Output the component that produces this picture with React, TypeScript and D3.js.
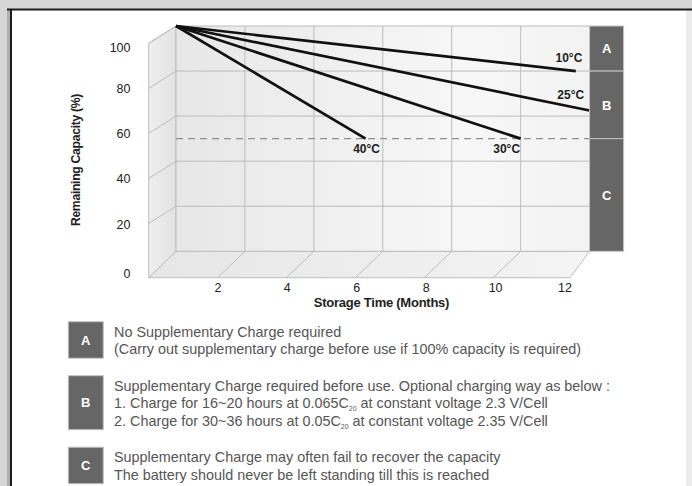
import React from "react";
import * as d3 from "d3";

// ---------- data ----------
const monthGrid = [0, 2, 4, 6, 8, 10, 12];
const xTickLabels = [2, 4, 6, 8, 10, 12];
const capacityGrid = [0, 20, 40, 60, 80, 100];
const seriesNames = ["10°C", "25°C", "30°C", "40°C"];
const seriesMonths = [
  [0, 11.6],
  [0, 12],
  [0, 10],
  [0, 5.5],
];
const seriesCapacity = [
  [100, 80],
  [100, 62.5],
  [100, 50],
  [100, 50],
];
const thresholdCapacity = 50;
const zoneNames = ["A", "B", "C"];
const zoneTop = [100, 80, 50];
const zoneBottom = [80, 50, 0];
const legendText = [
  [
    "No Supplementary Charge required",
    "(Carry out supplementary charge before use if 100% capacity is required)",
  ],
  [
    "Supplementary Charge required before use. Optional charging way as below :",
    "1. Charge for 16~20 hours at 0.065C_{20} at constant voltage 2.3 V/Cell",
    "2. Charge for 30~36 hours at 0.05C_{20} at constant voltage 2.35 V/Cell",
  ],
  [
    "Supplementary Charge may often fail to recover the capacity",
    "The battery should never be left standing till this is reached",
  ],
];
const yAxisTitle = "Remaining Capacity (%)";
const xAxisTitle = "Storage Time (Months)";

// ---------- layout / style ----------
const W = 692;
const H = 486;
const FONT = "'Liberation Sans', Arial, sans-serif";
const back = { x0: 176, x1: 589.6, y0: 251.3, y1: 26 };
const wallDx = -27.3;
const wallDy = 17.3;
const floorDy = 26.4;
const floorFrontRight = 570;
const zoneW = 34;

// label placement relative to each line's end point
const labelPlace = [
  { dx: 6.5, dy: -9, anchor: "end" },
  { dx: -5.5, dy: -11.4, anchor: "end" },
  { dx: -14, dy: 14, anchor: "middle" },
  { dx: 1, dy: 14, anchor: "middle" },
];

function RichText({ s }: { s: string }) {
  const parts = s.split(/(_\{[^}]*\})/);
  const out: React.ReactNode[] = [];
  let sub = false;
  parts.forEach((p, i) => {
    if (p.startsWith("_{")) {
      out.push(
        <tspan key={i} fontSize={7} dy={3}>
          {p.slice(2, -1)}
        </tspan>
      );
      sub = true;
    } else if (p.length) {
      out.push(
        <tspan key={i} dy={sub ? -3 : 0}>
          {p}
        </tspan>
      );
      sub = false;
    }
  });
  return <>{out}</>;
}

export default function App() {
  const x = d3.scaleLinear().domain([0, 12]).range([back.x0, back.x1]);
  const y = d3.scaleLinear().domain([0, 100]).range([back.y0, back.y1]);
  const xFront = d3.scaleLinear().domain([0, 12]).range([148.5, 565]);
  const yLabel = d3
    .scaleLinear()
    .domain([0, 20, 80, 100])
    .range([273.5, 224, 88.8, 47.5]);

  const line = d3
    .line<[number, number]>()
    .x((d) => x(d[0]))
    .y((d) => y(d[1]));

  const frontX = back.x0 + wallDx;
  const floorY = back.y0 + floorDy;

  // legend layout
  const lineGap = 17.5;
  let base = 336.7;
  const legendBlocks = legendText.map((lines, i) => {
    const baselines = lines.map((_, j) => base + j * lineGap);
    const block = { i, lines, baselines };
    base = baselines[baselines.length - 1] + 36.5;
    return block;
  });

  return (
    <svg
      width={W}
      height={H}
      viewBox={`0 0 ${W} ${H}`}
      style={{ position: "absolute", left: 0, top: 0, display: "block" }}
      fontFamily={FONT}
    >
      <defs>
        <linearGradient id="backGrad" x1="0" x2="1" y1="0" y2="0">
          <stop offset="0" stopColor="#e7e7e7" />
          <stop offset="0.7" stopColor="#f7f7f7" />
          <stop offset="1" stopColor="#f3f3f3" />
        </linearGradient>
        <linearGradient id="sideGrad" x1="0" x2="1" y1="0" y2="0">
          <stop offset="0" stopColor="#eeeeee" />
          <stop offset="1" stopColor="#e3e3e3" />
        </linearGradient>
        <linearGradient id="floorGrad" x1="0" x2="1" y1="0" y2="0">
          <stop offset="0" stopColor="#e6e6e6" />
          <stop offset="1" stopColor="#f4f4f4" />
        </linearGradient>
      </defs>

      {/* page frame */}
      <rect x={0} y={0} width={W} height={H} fill="#d6d6d6" />
      <rect x={7} y={9} width={3} height={H} fill="#b0b0b0" />
      <rect x={10} y={9} width={676} height={H} fill="#ffffff" />
      <rect x={686} y={10} width={6} height={H} fill="#ececec" />
      <line x1={7} x2={W} y1={9.5} y2={9.5} stroke="#1c1c1c" strokeWidth={2} />
      <line x1={11} x2={11} y1={9} y2={H} stroke="#1c1c1c" strokeWidth={2} />

      {/* 3D box: floor, side wall, back wall */}
      <polygon
        points={`${frontX},${floorY} ${back.x0},${back.y0} ${back.x1},${back.y0} ${floorFrontRight},${floorY}`}
        fill="url(#floorGrad)"
        stroke="#bdbdbd"
      />
      <polygon
        points={`${frontX},${y(100) + wallDy} ${back.x0},${y(100)} ${back.x0},${back.y0} ${frontX},${floorY}`}
        fill="url(#sideGrad)"
        stroke="#bdbdbd"
      />
      <rect
        x={back.x0}
        y={back.y1}
        width={back.x1 - back.x0}
        height={back.y0 - back.y1}
        fill="url(#backGrad)"
      />

      {/* grid lines */}
      <g stroke="#bcbcbc" strokeWidth={1} fill="none">
        {capacityGrid.map((v) => (
          <line key={"h" + v} x1={back.x0} x2={back.x1} y1={y(v)} y2={y(v)} />
        ))}
        {capacityGrid
          .filter((v) => v > 0)
          .map((v) => (
            <line
              key={"s" + v}
              x1={frontX}
              y1={y(v) + wallDy}
              x2={back.x0}
              y2={y(v)}
            />
          ))}
        {monthGrid.map((m) => (
          <line key={"v" + m} x1={x(m)} x2={x(m)} y1={back.y1} y2={back.y0} />
        ))}
        {monthGrid
          .filter((m) => m > 0 && m < 12)
          .map((m) => (
            <line
              key={"f" + m}
              x1={x(m)}
              y1={back.y0}
              x2={x(m) + wallDx - 0.2}
              y2={floorY}
            />
          ))}
      </g>

      {/* threshold dashed line */}
      <line
        x1={back.x0}
        x2={back.x1}
        y1={y(thresholdCapacity)}
        y2={y(thresholdCapacity)}
        stroke="#8f8f8f"
        strokeWidth={1.3}
        strokeDasharray="7,5"
      />

      {/* series lines */}
      {seriesNames.map((name, i) => {
        const pts = seriesMonths[i].map(
          (m, j) => [m, seriesCapacity[i][j]] as [number, number]
        );
        const end = pts[pts.length - 1];
        const lp = labelPlace[i];
        return (
          <g key={name}>
            <path
              d={line(pts) || ""}
              fill="none"
              stroke="#111111"
              strokeWidth={2.7}
              strokeLinecap="butt"
            />
            <text
              x={x(end[0]) + lp.dx}
              y={y(end[1]) + lp.dy}
              textAnchor={lp.anchor as any}
              fontSize={12}
              fontWeight="bold"
              fill="#222"
            >
              {name}
            </text>
          </g>
        );
      })}

      {/* zone boxes */}
      {zoneNames.map((z, i) => (
        <g key={z}>
          <rect
            x={back.x1}
            y={y(zoneTop[i])}
            width={zoneW}
            height={y(zoneBottom[i]) - y(zoneTop[i])}
            fill="#666666"
            stroke="#c4c4c4"
            strokeWidth={1}
          />
          <text
            x={back.x1 + zoneW / 2}
            y={(y(zoneTop[i]) + y(zoneBottom[i])) / 2}
            dy="0.36em"
            textAnchor="middle"
            fontSize={13}
            fontWeight="bold"
            fill="#ffffff"
          >
            {z}
          </text>
        </g>
      ))}

      {/* y tick labels */}
      {capacityGrid.map((v) => (
        <text
          key={"yl" + v}
          x={130.5}
          y={yLabel(v)}
          dy="0.36em"
          textAnchor="end"
          fontSize={12.5}
          fill="#222"
        >
          {v}
        </text>
      ))}

      {/* x tick labels */}
      {xTickLabels.map((m) => (
        <text
          key={"xl" + m}
          x={xFront(m)}
          y={291.6}
          textAnchor="middle"
          fontSize={12.5}
          fill="#222"
        >
          {m}
        </text>
      ))}

      {/* axis titles */}
      <text
        x={381.5}
        y={306.8}
        textAnchor="middle"
        fontSize={13}
        fontWeight="bold"
        letterSpacing={-0.25}
        fill="#222"
      >
        {xAxisTitle}
      </text>
      <text
        transform="translate(79.5,160) rotate(-90)"
        textAnchor="middle"
        fontSize={12.2}
        fontWeight="bold"
        letterSpacing={-0.3}
        fill="#222"
      >
        {yAxisTitle}
      </text>

      {/* legend */}
      {legendBlocks.map((b) => {
        const top = b.baselines[0] - 15;
        const bottom = b.baselines[b.baselines.length - 1] + 4;
        return (
          <g key={"lg" + b.i}>
            <rect
              x={68.3}
              y={top}
              width={35}
              height={bottom - top}
              fill="#666666"
              stroke="#c4c4c4"
              strokeWidth={1}
            />
            <text
              x={85.8}
              y={(top + bottom) / 2}
              dy="0.36em"
              textAnchor="middle"
              fontSize={13}
              fontWeight="bold"
              fill="#ffffff"
            >
              {zoneNames[b.i]}
            </text>
            {b.lines.map((s, j) => (
              <text
                key={j}
                x={114}
                y={b.baselines[j]}
                fontSize={14.4}
                fill="#555555"
              >
                <RichText s={s} />
              </text>
            ))}
          </g>
        );
      })}
    </svg>
  );
}
